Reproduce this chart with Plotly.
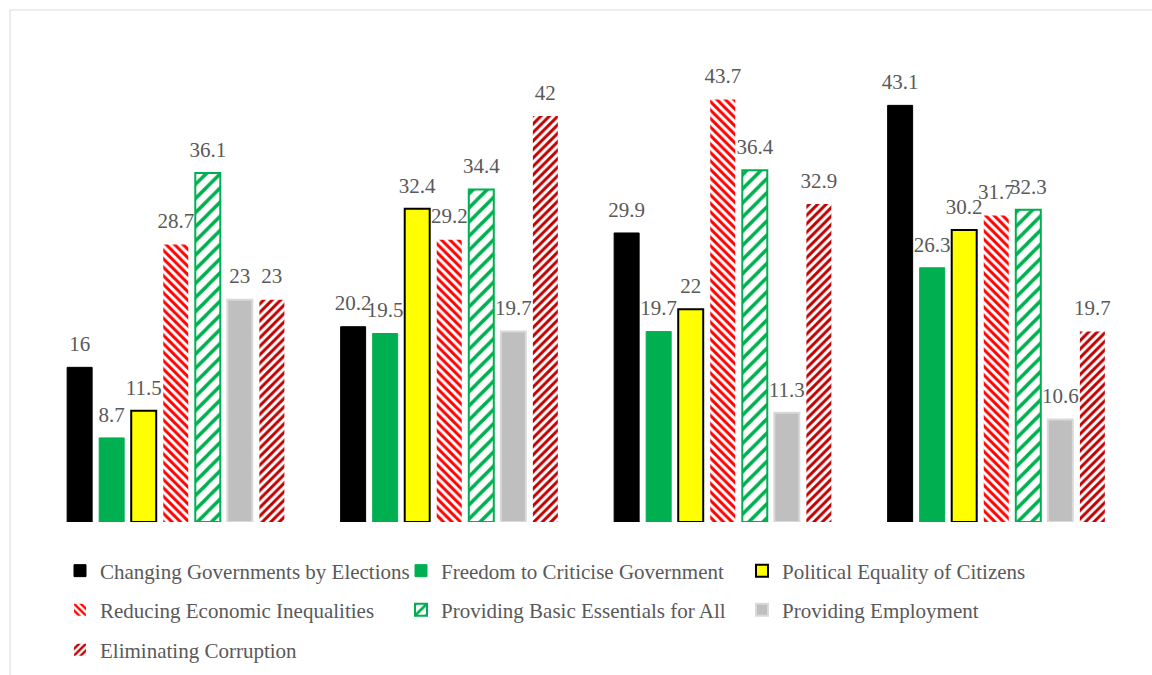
import plotly.graph_objects as go

categories = ["Group 1", "Group 2", "Group 3", "Group 4"]
series_names = [
    "Changing Governments by Elections",
    "Freedom to Criticise Government",
    "Political Equality of Citizens",
    "Reducing Economic Inequalities",
    "Providing Basic Essentials for All",
    "Providing Employment",
    "Eliminating Corruption",
]
changing_govts = [16, 20.2, 29.9, 43.1]
freedom_criticise = [8.7, 19.5, 19.7, 26.3]
political_equality = [11.5, 32.4, 22, 30.2]
reducing_inequalities = [28.7, 29.2, 43.7, 31.7]
basic_essentials = [36.1, 34.4, 36.4, 32.3]
providing_employment = [23, 19.7, 11.3, 10.6]
eliminating_corruption = [23, 42, 32.9, 19.7]

values = [changing_govts, freedom_criticise, political_equality,
          reducing_inequalities, basic_essentials, providing_employment,
          eliminating_corruption]

styles = [
    dict(marker=dict(color="#000000", line=dict(color="#000000", width=1))),
    dict(marker=dict(color="#00B050", line=dict(color="#00B050", width=1))),
    dict(marker=dict(color="#FFFF00", line=dict(color="#000000", width=2))),
    dict(marker=dict(color="#FF0000", line=dict(width=0),
                     pattern=dict(shape="\\", fgcolor="#FF0000", bgcolor="#FFFFFF",
                                  fillmode="replace", size=6, solidity=0.5))),
    dict(marker=dict(color="#00B050", line=dict(color="#00B050", width=2),
                     pattern=dict(shape="/", fgcolor="#00B050", bgcolor="#FFFFFF",
                                  fillmode="replace", size=10, solidity=0.35))),
    dict(marker=dict(color="#BFBFBF", line=dict(color="#D9D9D9", width=2))),
    dict(marker=dict(color="#C00000", line=dict(width=0),
                     pattern=dict(shape="/", fgcolor="#C00000", bgcolor="#FFFFFF",
                                  fillmode="replace", size=6, solidity=0.5))),
]
legend_ids = ["legend", "legend", "legend", "legend2", "legend2", "legend2", "legend3"]

FONT = "Liberation Serif"
TEXT_COLOR = "#595959"

fig = go.Figure()
for name, vals, st, lg in zip(series_names, values, styles, legend_ids):
    fig.add_trace(go.Bar(x=categories, y=vals, name=name, legend=lg, **st))

# data labels: scatter traces grouped the same way as the bars
for name, vals in zip(series_names, values):
    fig.add_trace(go.Scatter(
        x=categories, y=vals, mode="markers+text", orientation="v",
        text=[str(v) for v in vals], textposition="top center",
        textfont=dict(family=FONT, size=21, color=TEXT_COLOR),
        marker=dict(size=16, opacity=0), cliponaxis=False,
        showlegend=False, hoverinfo="skip", name=name + " label"))

leg_common = dict(orientation="h", xanchor="left", yanchor="middle",
                  xref="container", yref="container",
                  font=dict(family=FONT, size=21, color=TEXT_COLOR),
                  entrywidth=296, entrywidthmode="pixels",
                  bgcolor="rgba(0,0,0,0)", itemclick=False, itemdoubleclick=False)

fig.update_layout(
    width=1152, height=675,
    margin=dict(l=39, r=19, t=58, b=153),
    paper_bgcolor="white", plot_bgcolor="white",
    barmode="group", bargap=0.18, bargroupgap=0.22,
    scattermode="group", scattergap=0.18,
    showlegend=True,
    legend=dict(x=60 / 1152, y=1 - 571 / 675, **leg_common),
    legend2=dict(x=60 / 1152, y=1 - 610 / 675, **leg_common),
    legend3=dict(x=60 / 1152, y=1 - 650 / 675, **leg_common),
    xaxis=dict(showticklabels=False, showgrid=False, zeroline=False, showline=False,
               ticks=""),
    yaxis=dict(range=[0, 48], visible=False),
    shapes=[dict(type="rect", xref="paper", yref="paper",
                 x0=(10 - 39) / 1094, x1=(1160 - 39) / 1094,
                 y0=(522 - 690) / 464, y1=(522 - 10) / 464,
                 line=dict(color="#D9D9D9", width=1), fillcolor="rgba(0,0,0,0)",
                 layer="below")],
)

fig.write_html("out.html")
